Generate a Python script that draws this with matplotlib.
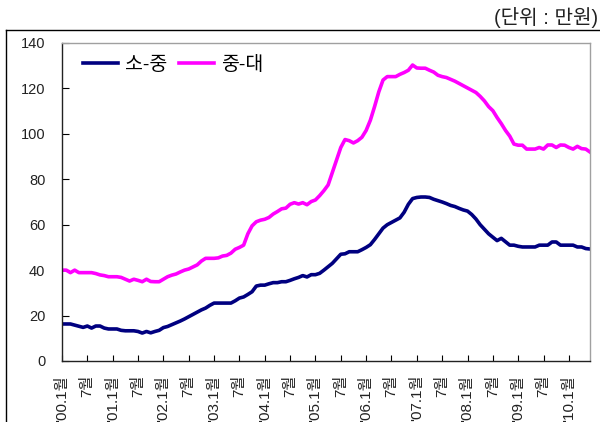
import matplotlib
matplotlib.use("Agg")
import matplotlib.pyplot as plt
from matplotlib.lines import Line2D

plt.rcParams['font.family'] = ['Liberation Sans', 'Noto Sans CJK KR', 'DejaVu Sans']

# Monthly average prices, Jan 2000 - Jun 2010 (unit: 만원)
small_mid = [
    16.3, 16.3, 16.3, 15.8, 15.3, 14.8, 15.4, 14.5, 15.4, 15.4, 14.5, 14.1,   # 2000
    14.1, 14.1, 13.5, 13.3, 13.3, 13.3, 13.0, 12.3, 13.0, 12.4, 13.0, 13.5,   # 2001
    14.7, 15.2, 16.0, 16.8, 17.6, 18.5, 19.5, 20.5, 21.5, 22.5, 23.3, 24.5,   # 2002
    25.5, 25.5, 25.5, 25.5, 25.5, 26.5, 27.7, 28.2, 29.3, 30.5, 33.0, 33.4,   # 2003
    33.4, 34.0, 34.5, 34.5, 34.9, 34.9, 35.5, 36.2, 36.8, 37.6, 37.0, 38.0,   # 2004
    38.0, 38.6, 40.0, 41.5, 43.0, 45.0, 47.0, 47.2, 48.1, 48.1, 48.1, 49.0,   # 2005
    50.0, 51.2, 53.5, 56.0, 58.5, 60.0, 61.0, 62.0, 63.0, 65.5, 69.0, 71.5,   # 2006
    72.0, 72.2, 72.2, 72.0, 71.2, 70.6, 70.0, 69.3, 68.5, 68.0, 67.2, 66.5,   # 2007
    66.0, 64.5, 62.5, 60.0, 58.0, 56.0, 54.5, 53.0, 54.0, 52.5, 51.0, 51.0,   # 2008
    50.5, 50.2, 50.2, 50.2, 50.2, 51.0, 51.0, 51.0, 52.4, 52.4, 51.0, 51.0,   # 2009
    51.0, 51.0, 50.2, 50.2, 49.5, 49.3,                                       # 2010
]
mid_large = [
    40.0, 40.0, 38.9, 40.0, 38.9, 38.9, 38.9, 38.9, 38.5, 37.9, 37.6, 37.1,   # 2000
    37.1, 37.1, 36.8, 36.0, 35.2, 36.0, 35.5, 34.9, 36.0, 35.0, 34.9, 34.9,   # 2001
    36.0, 37.1, 37.8, 38.3, 39.2, 40.0, 40.5, 41.4, 42.3, 44.0, 45.2, 45.2,   # 2002
    45.2, 45.4, 46.2, 46.5, 47.5, 49.2, 50.0, 51.0, 56.0, 59.5, 61.3, 62.0,   # 2003
    62.4, 63.2, 64.7, 65.8, 67.0, 67.3, 69.0, 69.7, 69.1, 69.7, 68.8, 70.2,   # 2004
    70.9, 72.8, 75.0, 77.5, 83.0, 88.5, 94.0, 97.5, 97.0, 96.0, 97.0, 98.5,   # 2005
    101.5, 106.0, 112.0, 118.5, 123.7, 125.2, 125.2, 125.2, 126.2, 127.0, 128.0, 130.3,  # 2006
    129.0, 128.9, 128.9, 128.0, 127.2, 125.8, 125.2, 124.8, 124.0, 123.2, 122.2, 121.2,  # 2007
    120.2, 119.2, 118.2, 116.5, 114.5, 112.0, 110.2, 107.2, 104.5, 101.5, 99.0, 95.5,    # 2008
    95.0, 95.0, 93.3, 93.3, 93.3, 94.0, 93.3, 95.1, 95.1, 94.0, 95.1, 95.0,   # 2009
    94.0, 93.3, 94.5, 93.5, 93.3, 92.0,                                       # 2010
]
series_names = ['소-중', '중-대']
tick_labels = ["'00.1월", "7월", "'01.1월", "7월", "'02.1월", "7월", "'03.1월", "7월",
               "'04.1월", "7월", "'05.1월", "7월", "'06.1월", "7월", "'07.1월", "7월",
               "'08.1월", "7월", "'09.1월", "7월", "'10.1월"]
y_ticks = [0, 20, 40, 60, 80, 100, 120, 140]

W, H = 600, 422
fig = plt.figure(figsize=(W / 100, H / 100), dpi=100)
ax = fig.add_axes([62 / W, 1 - 361 / H, 528 / W, 318 / H])

x = list(range(len(small_mid)))
ax.plot(x, small_mid, color='#000080', lw=2.6, label=series_names[0], solid_joinstyle='round')
ax.plot(x, mid_large, color='#FF00FF', lw=2.6, label=series_names[1], solid_joinstyle='round')

ax.set_xlim(0, len(small_mid) - 1)
ax.set_ylim(0, 140)
ax.set_yticks(y_ticks)
ax.set_yticklabels([str(v) for v in y_ticks], fontsize=10.5, color='#222222')
ax.set_xticks([6 * k for k in range(len(tick_labels))])
ax.set_xticklabels(tick_labels, rotation=90, fontsize=11, va='top', ha='center',
                   color='#222222')
ax.tick_params(axis='y', direction='in', length=5, width=0.8, pad=12)
ax.tick_params(axis='x', direction='in', length=4, width=0.8, pad=10)

for side in ('left', 'bottom'):
    ax.spines[side].set_color('#222222')
    ax.spines[side].set_linewidth(1.0)
for side in ('top', 'right'):
    ax.spines[side].set_color('#A0A0A0')
    ax.spines[side].set_linewidth(1.0)

ax.legend(loc='upper left', bbox_to_anchor=(0.04, 0.96), ncol=2, frameon=False,
          fontsize=14, handlelength=1.8, handletextpad=0.35, columnspacing=0.6,
          borderpad=0, borderaxespad=0)

# outer frame (top and left edges)
fig.add_artist(Line2D([6 / W, 1.0], [1 - 30 / H, 1 - 30 / H], color='black', lw=1.0,
                      transform=fig.transFigure))
fig.add_artist(Line2D([6 / W, 6 / W], [0.0, 1 - 30 / H], color='black', lw=1.0,
                      transform=fig.transFigure))

fig.text(598 / W, 1 - 18 / H, '(단위 : 만원)', ha='right', va='center', fontsize=14.5,
         color='#222222')

fig.savefig('out.png', dpi=100)
